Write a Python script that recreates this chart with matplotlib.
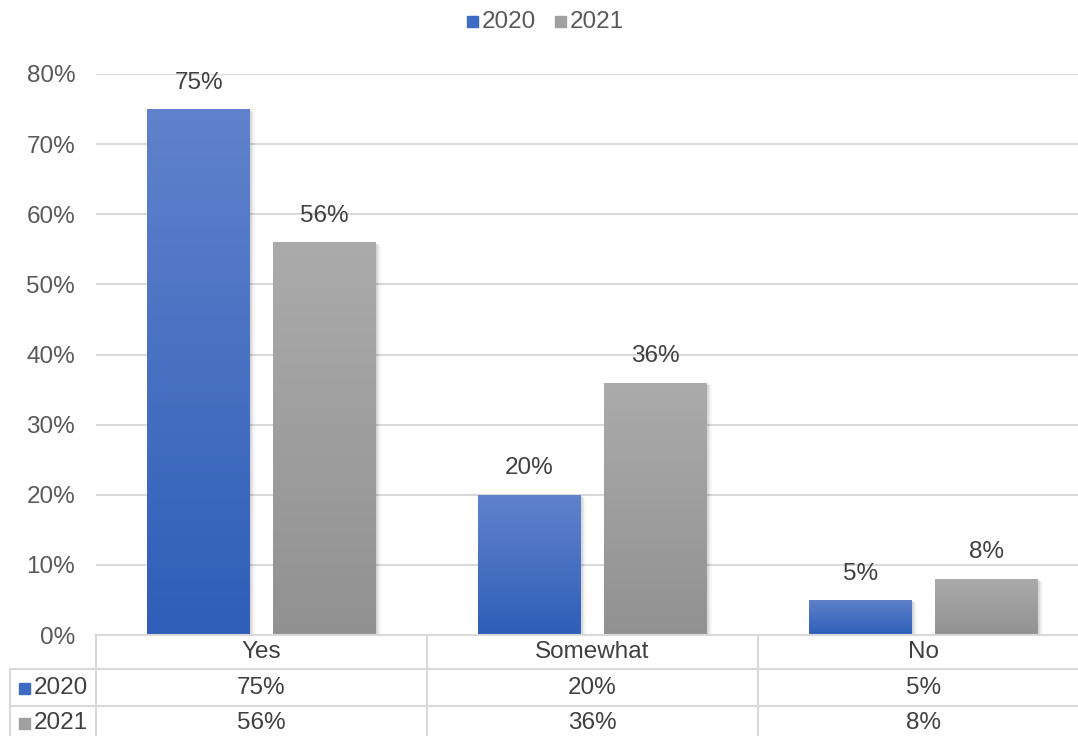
import numpy as np
import matplotlib
matplotlib.use("Agg")
import matplotlib.pyplot as plt
import matplotlib.patheffects as pe
from matplotlib.colors import LinearSegmentedColormap
from matplotlib.lines import Line2D
from matplotlib.patches import Rectangle

plt.rcParams['font.family'] = ['Liberation Sans', 'DejaVu Sans']

categories = ["Yes", "Somewhat", "No"]
series_names = ["2020", "2021"]
values_2020 = [75, 20, 5]
values_2021 = [56, 36, 8]
y_ticks = [0, 10, 20, 30, 40, 50, 60, 70, 80]

W, H = 1078, 736
FS = 17.5
fig = plt.figure(figsize=(W / 100, H / 100), dpi=100)

# plot area in pixel coordinates
left_px, right_px = 96, 1078
top_px, bottom_px = 74, 635
cat_px = 331.0
ax = fig.add_axes([left_px / W, 1 - bottom_px / H,
                   (right_px - left_px) / W, (bottom_px - top_px) / H])
for s in ax.spines.values():
    s.set_visible(False)
ax.set_xticks([])
ax.set_yticks(y_ticks)
ax.set_yticklabels([f"{t}%" for t in y_ticks])
ax.tick_params(axis='y', length=0, pad=15, labelsize=FS, labelcolor='#595959')
ax.grid(axis='y', color='#d9d9d9', linewidth=1.5)
ax.set_axisbelow(True)

text_color = '#404040'
grid_color = '#d9d9d9'

colors = {
    "2020": ((0.38, 0.51, 0.80), (0.18, 0.37, 0.72)),
    "2021": ((0.67, 0.67, 0.67), (0.57, 0.57, 0.57)),
}
legend_colors = {"2020": '#3e6bc4', "2021": '#a0a0a0'}

bar_w = 0.31
offsets = [-0.19, 0.19]
x = np.arange(len(categories))

# soft drop shadow built from a few faint offset layers
shadow = [pe.SimplePatchShadow(offset=(o, -o * 0.6), alpha=a, shadow_rgbFace='black')
          for o, a in [(3.5, 0.03), (2.5, 0.05), (1.5, 0.07)]]

for name, vals, off in zip(series_names, [values_2020, values_2021], offsets):
    top_c, bot_c = colors[name]
    cmap = LinearSegmentedColormap.from_list(name, [bot_c, top_c])
    bars = ax.bar(x + off, vals, width=bar_w, color=bot_c, zorder=2,
                  path_effects=shadow + [pe.Normal()])
    for b, v in zip(bars, vals):
        x0 = b.get_x()
        grad = np.linspace(0, 1, 256).reshape(-1, 1)
        im = ax.imshow(grad, cmap=cmap, origin='lower', aspect='auto',
                       extent=[x0, x0 + b.get_width(), 0, v], zorder=3,
                       interpolation='bilinear')
        im.set_clip_path(b)
        ax.text(x0 + b.get_width() / 2, v + 2.2, f"{v}%", ha='center', va='bottom',
                fontsize=FS, color=text_color, zorder=4)

ax.set_xlim(-0.5, (right_px - left_px) / cat_px - 0.5)
ax.set_ylim(0, 80)


def px2fig(px, py):
    return px / W, 1 - py / H


# legend at the top
leg_items = [(467, "2020"), (555, "2021")]
for lx, name in leg_items:
    fx, fy = px2fig(lx, 27)
    fig.patches.append(Rectangle((fx, fy), 11 / W, 11 / H, transform=fig.transFigure,
                                 color=legend_colors[name], figure=fig))
    tx, ty = px2fig(lx + 15, 21.5)
    fig.text(tx, ty, name, ha='left', va='center', fontsize=FS, color='#595959')


# data table under the axis
def hline(y, x0, x1):
    fig.add_artist(Line2D([x0 / W, x1 / W], [1 - y / H, 1 - y / H],
                          transform=fig.transFigure, color=grid_color, linewidth=1.5))


def vline(xp, y0, y1):
    fig.add_artist(Line2D([xp / W, xp / W], [1 - y0 / H, 1 - y1 / H],
                          transform=fig.transFigure, color=grid_color, linewidth=1.5))


hline(635, left_px, W)
hline(669, 10, W)
hline(706, 10, W)
vline(10, 669, H)
for i in range(len(categories) + 1):
    vline(left_px + i * cat_px, 635, H)

row_y = [652, 688, 723]
for i, cat in enumerate(categories):
    cx = left_px + (i + 0.5) * cat_px
    fig.text(cx / W, 1 - row_y[0] / H, cat, ha='center', va='center',
             fontsize=FS, color=text_color)
    fig.text(cx / W, 1 - row_y[1] / H, f"{values_2020[i]}%", ha='center', va='center',
             fontsize=FS, color=text_color)
    fig.text(cx / W, 1 - row_y[2] / H, f"{values_2021[i]}%", ha='center', va='center',
             fontsize=FS, color=text_color)

for ry, name in zip(row_y[1:], series_names):
    fx, fy = px2fig(19, ry + 5.5)
    fig.patches.append(Rectangle((fx, fy), 11 / W, 11 / H, transform=fig.transFigure,
                                 color=legend_colors[name], figure=fig))
    fig.text(34 / W, 1 - ry / H, name, ha='left', va='center', fontsize=FS,
             color=text_color)

fig.savefig("out.png", dpi=100, facecolor='white')
